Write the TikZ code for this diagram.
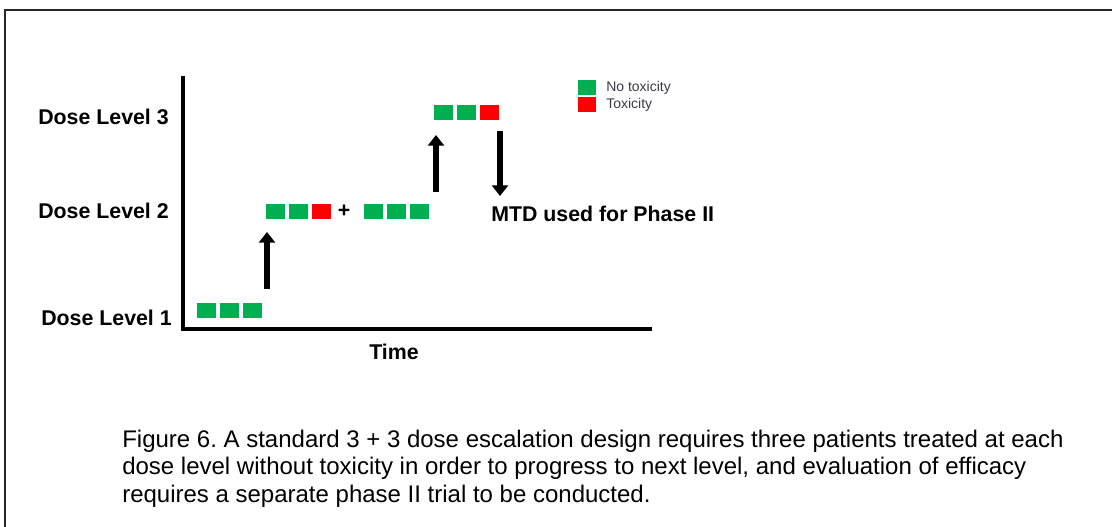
\documentclass[tikz,border=0pt]{standalone}
\usepackage{fontspec}
\setmainfont{Liberation Sans}
\usetikzlibrary{arrows.meta,calc}
\definecolor{notox}{HTML}{00B050}
\definecolor{tox}{HTML}{FF0000}
\definecolor{legendtext}{HTML}{3A3A4A}
\newcommand{\cohort}[4]{
	\node[patient] (#1-1) at (#2,#3) {};
	\node[patient] (#1-2) at ($(#1-1)+(23,0)$) {};
	\node[#4] (#1-3) at ($(#1-2)+(23,0)$) {};
}
\frenchspacing

\begin{document}
\begin{tikzpicture}[x=0.75pt,y=-0.75pt]
	\tikzset{
		patient/.style={fill=notox, minimum width=14.25pt, minimum height=11.25pt, inner sep=0pt},
		toxic/.style={patient, fill=tox},
		doselabel/.style={font=\fontsize{16}{19}\selectfont\bfseries, anchor=east, inner sep=0pt},
		escalate/.style={line width=4.5pt, -{Triangle[width=12pt,length=8pt]}},
		axisline/.style={line width=3pt},
		legendlabel/.style={font=\fontsize{10.5}{12}\selectfont, text=legendtext, anchor=west, inner sep=0pt}
	}
	\useasboundingbox (0,0) rectangle (1112,527);

	% frame
	\coordinate (frameleft) at (4.5,527);
	\coordinate (framecorner) at (4.5,10);
	\coordinate (frameright) at (1112,10);
	\draw[line width=1.5pt, black!85] (frameleft) -- (framecorner) -- (frameright);

	% axes
	\coordinate (ytop) at (183,76);
	\coordinate (origin) at (183,329);
	\coordinate (xend) at (652,329);
	\draw[axisline] (ytop) -- (origin) -- (xend);

	\node[doselabel] (level3) at (169,117) {Dose Level 3};
	\node[doselabel] (level2) at (169,211) {Dose Level 2};
	\node[doselabel] (level1) at (172,318) {Dose Level 1};
	\node[font=\fontsize{16}{19}\selectfont\bfseries] (time) at (394,352) {Time};

	% cohorts
	\cohort{first}{206.5}{310.5}{patient}
	\cohort{second}{275}{212}{toxic}
	\node[font=\fontsize{16}{19}\selectfont\bfseries, inner sep=0pt] (plus) at (344,211) {+};
	\cohort{expand}{373.5}{212}{patient}
	\cohort{third}{443}{113}{toxic}

	% escalation
	\coordinate (up1s) at (267,289);
	\coordinate (up1e) at (267,232);
	\coordinate (up2s) at (436,192);
	\coordinate (up2e) at (436,135);
	\coordinate (downs) at (500,131);
	\coordinate (downe) at (500,196);
	\draw[escalate] (up1s) -- (up1e);
	\draw[escalate] (up2s) -- (up2e);
	\draw[escalate] (downs) -- (downe);
	\node[font=\fontsize{16}{19}\selectfont\bfseries, anchor=west, inner sep=0pt] (mtd) at (491,214) {MTD used for Phase II};

	% legend
	\node[patient, minimum width=13.5pt] (keygreen) at (587,87.5) {};
	\node[toxic, minimum width=13.5pt] (keyred) at (587,105) {};
	\node[legendlabel] (keygreentext) at (606,87.5) {No toxicity};
	\node[legendlabel] (keyredtext) at (606,105) {Toxicity};

	\node[anchor=base west, align=left, inner sep=0pt, font=\fontsize{18}{20.6}\selectfont] (caption) at (122,502)
		{Figure 6. A standard 3 + 3 dose escalation design requires three patients treated at each\\
		dose level without toxicity in order to progress to next level, and evaluation of efficacy\\
		requires a separate phase II trial to be conducted.};
\end{tikzpicture}
\end{document}
